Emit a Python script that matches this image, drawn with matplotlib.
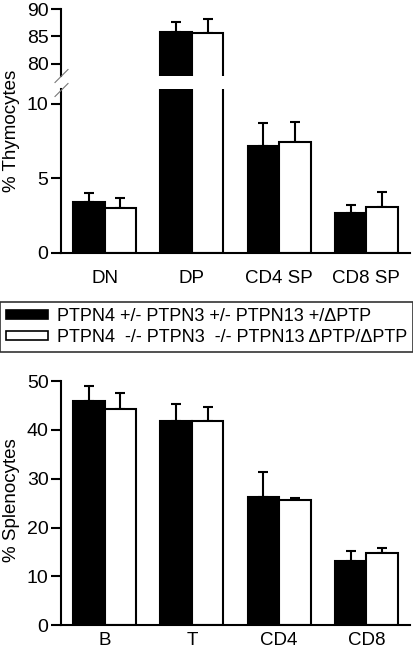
import matplotlib
matplotlib.use("Agg")
import matplotlib.pyplot as plt
from matplotlib.patches import Patch
import numpy as np

plt.rcParams['font.family'] = ['Liberation Sans', 'DejaVu Sans']

thymo_cats = ["DN", "DP", "CD4 SP", "CD8 SP"]
thymo_het = [3.4, 85.9, 7.2, 2.7]
thymo_het_err = [0.6, 1.7, 1.5, 0.5]
thymo_ko = [3.0, 85.6, 7.45, 3.07]
thymo_ko_err = [0.7, 2.5, 1.35, 1.0]

spleno_cats = ["B", "T", "CD4", "CD8"]
spleno_het = [45.9, 41.8, 26.3, 13.1]
spleno_het_err = [3.0, 3.4, 5.1, 2.2]
spleno_ko = [44.2, 41.9, 25.6, 14.7]
spleno_ko_err = [3.4, 2.8, 0.45, 1.1]

legend_labels = ["PTPN4 +/- PTPN3 +/- PTPN13 +/\u0394PTP",
                 "PTPN4  -/- PTPN3  -/- PTPN13 \u0394PTP/\u0394PTP"]

W, H = 413, 655
fig = plt.figure(figsize=(W / 100, H / 100), dpi=100)

def fr(x0, ytop, x1, ybot):
    return [x0 / W, 1 - ybot / H, (x1 - x0) / W, (ybot - ytop) / H]

ax_up = fig.add_axes(fr(61, 9, 410, 76))
ax_lo = fig.add_axes(fr(61, 89, 410, 253))
ax_sp = fig.add_axes(fr(61, 381, 410, 625.3))

bw = 0.36
off = 0.18
lw = 1.5
fs = 13.5
tfs = 14
lfs = 13

def draw(ax, cats, v1, e1, v2, e2):
    x = np.arange(len(cats))
    ax.bar(x - off, v1, bw, color='black', edgecolor='black', linewidth=lw, zorder=2)
    ax.bar(x + off, v2, bw, color='white', edgecolor='black', linewidth=lw, zorder=2)
    ax.errorbar(x - off, v1, yerr=[np.zeros(len(v1)), e1], fmt='none', ecolor='black',
                elinewidth=lw, capsize=3.5, capthick=lw, zorder=1)
    ax.errorbar(x + off, v2, yerr=[np.zeros(len(v2)), e2], fmt='none', ecolor='black',
                elinewidth=lw, capsize=3.5, capthick=lw, zorder=1)
    ax.set_xlim(-0.5, len(cats) - 0.5)
    for s in ['top', 'right']:
        ax.spines[s].set_visible(False)
    for s in ['left', 'bottom']:
        ax.spines[s].set_linewidth(lw)
    ax.tick_params(axis='y', direction='out', length=7, width=lw, labelsize=tfs, pad=2)
    return x

for ax in (ax_up, ax_lo):
    x = draw(ax, thymo_cats, thymo_het, thymo_het_err, thymo_ko, thymo_ko_err)

ax_up.set_ylim(77.8, 90)
ax_up.set_yticks([80, 85, 90])
ax_up.spines['bottom'].set_visible(False)
ax_up.set_xticks([])

ax_lo.set_ylim(0, 11)
ax_lo.set_yticks([0, 5, 10])
ax_lo.set_xticks(x)
ax_lo.set_xticklabels(thymo_cats)
ax_lo.tick_params(axis='x', length=0, labelsize=fs, pad=12)

xs = draw(ax_sp, spleno_cats, spleno_het, spleno_het_err, spleno_ko, spleno_ko_err)
ax_sp.set_ylim(0, 50)
ax_sp.set_yticks([0, 10, 20, 30, 40, 50])
ax_sp.set_xticks(xs)
ax_sp.set_xticklabels(spleno_cats)
ax_sp.tick_params(axis='x', length=0, labelsize=fs, pad=5)

# break marks (figure pixel coords)
for (cx, cy) in [(61.5, 76), (61.5, 90)]:
    fig.add_artist(plt.Line2D([(cx - 6.5) / W, (cx + 6.5) / W],
                              [1 - (cy + 6.5) / H, 1 - (cy - 6.5) / H],
                              color='#777777', linewidth=0.8))

fig.text(12 / W, 1 - 131 / H, "% Thymocytes", rotation=90, ha='center', va='center', fontsize=fs)
fig.text(12 / W, 1 - 500 / H, "% Splenocytes", rotation=90, ha='center', va='center', fontsize=fs)

handles = [Patch(facecolor='black', edgecolor='black', linewidth=1.2),
           Patch(facecolor='white', edgecolor='black', linewidth=1.2)]
leg = fig.legend(handles, legend_labels, loc='center', bbox_to_anchor=(206.5 / W, 1 - 327 / H),
                 fontsize=lfs, frameon=True, fancybox=False, edgecolor='black',
                 handlelength=2.3, handleheight=0.35, handletextpad=0.5,
                 labelspacing=0.2, borderpad=0.35, borderaxespad=0)
leg.get_frame().set_linewidth(1.2)

fig.savefig("out.png", dpi=100)
